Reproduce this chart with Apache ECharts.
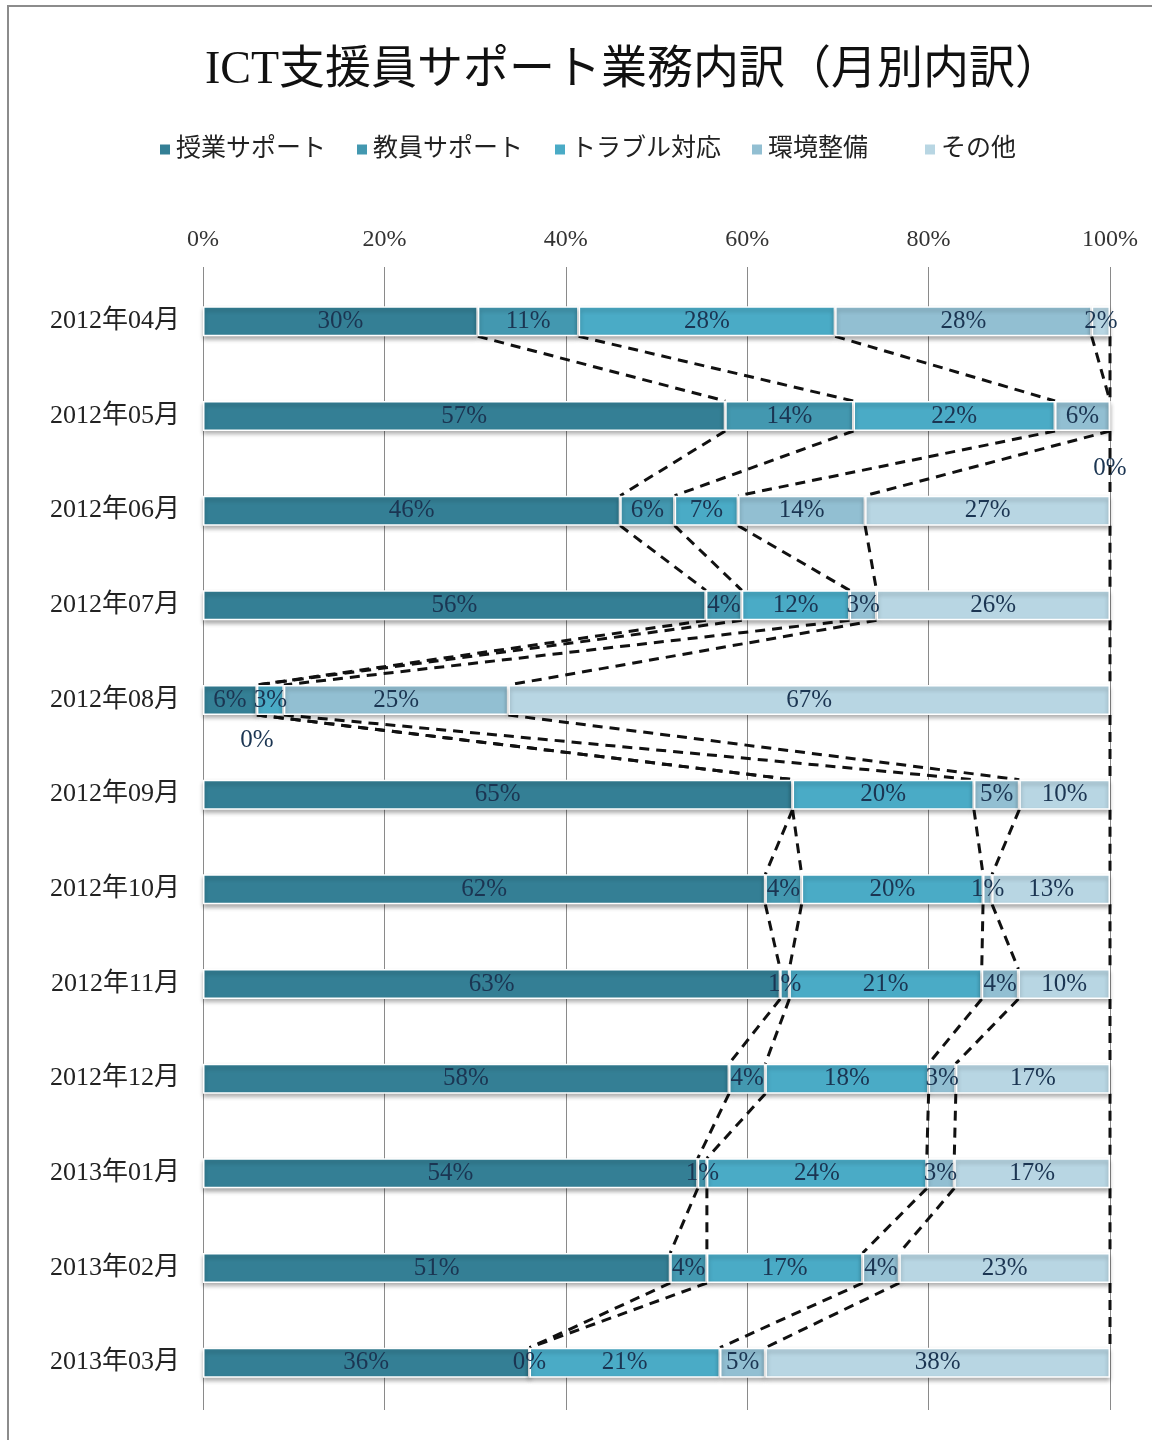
<!DOCTYPE html>
<html>
<head>
<meta charset="utf-8">
<title>ICT支援員サポート業務内訳（月別内訳）</title>
<script src="https://cdn.jsdelivr.net/npm/echarts@6/dist/echarts.min.js"></script>
<style>
  html, body { margin: 0; padding: 0; background: #ffffff; }
  #chart { width: 1152px; height: 1440px; }
</style>
</head>
<body>
<div id="chart"></div>
<script>
// Months on the category axis (top to bottom)
const categories = ['2012年04月', '2012年05月', '2012年06月', '2012年07月', '2012年08月', '2012年09月',
                    '2012年10月', '2012年11月', '2012年12月', '2013年01月', '2013年02月', '2013年03月'];

// Share of each kind of work per month, in percent
const lessonSupport   = [30, 57, 46, 56,  6, 65, 62, 63, 58, 54, 51, 36];
const teacherSupport  = [11, 14,  6,  4,  0,  0,  4,  1,  4,  1,  4,  0];
const troubleResponse = [28, 22,  7, 12,  3, 20, 20, 21, 18, 24, 17, 21];
const environment     = [28,  6, 14,  3, 25,  5,  1,  4,  3,  3,  4,  5];
const other           = [ 2,  0, 27, 26, 67, 10, 13, 10, 17, 17, 23, 38];

const seriesNames = ['授業サポート', '教員サポート', 'トラブル対応', '環境整備', 'その他'];
const tickValues = [0, 20, 40, 60, 80, 100];

const raw = [lessonSupport, teacherSupport, troubleResponse, environment, other];
const colors = ['#347f95', '#4398b0', '#4aabc6', '#92bfd2', '#b8d6e3'];

// 100% stacking: each month is scaled so its segments fill the full bar
const totals = categories.map((_, i) => raw.reduce((s, arr) => s + arr[i], 0));
const shares = raw.map(arr => arr.map((v, i) => v / totals[i] * 100));

// cumulative end of each segment, used by the dashed series lines
const cumulative = shares.map((_, k) =>
  categories.map((_, i) => shares.slice(0, k + 1).reduce((s, arr) => s + arr[i], 0)));

const FONT = "'Liberation Serif', 'Noto Sans CJK JP', serif";
const BAR_W = 30;

// label placement overrides for zero-width segments
const labelOverrides = {
  '4-1': { position: 'bottom', distance: 24 },
  '1-4': { position: 'bottom', distance: 12 },
  '1-5': { show: false }
};

const barSeries = seriesNames.map((name, s) => ({
  name: name,
  type: 'bar',
  stack: 'total',
  barWidth: BAR_W,
  z: 3,
  itemStyle: {
    color: colors[s],
    borderColor: '#ffffff',
    borderWidth: 1.5,
    shadowColor: 'rgba(0,0,0,0.3)',
    shadowBlur: 4,
    shadowOffsetY: 3
  },
  label: {
    show: true,
    position: 'inside',
    color: '#1b3552',
    fontFamily: FONT,
    fontSize: 25,
    formatter: p => raw[p.seriesIndex][p.dataIndex] + '%'
  },
  data: shares[s].map((v, i) => {
    const o = labelOverrides[s + '-' + i];
    return o ? { value: v, label: o } : v;
  })
}));

// dashed series lines joining segment ends of neighbouring bars
const seriesLines = {
  type: 'custom',
  name: 'series-lines',
  z: 2,
  silent: true,
  encode: { x: 0, y: 1 },
  data: categories.slice(0, -1).map((_, i) => [100, i]),
  renderItem: function (params, api) {
    const i = params.dataIndex;
    const half = BAR_W / 2;
    const children = [];
    for (let k = 0; k < cumulative.length; k++) {
      const a = api.coord([cumulative[k][i], i]);
      const b = api.coord([cumulative[k][i + 1], i + 1]);
      children.push({
        type: 'line',
        shape: { x1: a[0], y1: a[1] + half, x2: b[0], y2: b[1] - half },
        style: { stroke: '#111111', lineWidth: 3, lineDash: [10, 7], fill: null }
      });
    }
    return { type: 'group', children: children };
  }
};

// one legend block per series, spaced like the original layout
const legendLeft = [158, 355, 553, 750, 923];
const legends = seriesNames.map((name, i) => ({
  data: [name],
  left: legendLeft[i],
  top: 137,
  padding: 0,
  icon: 'rect',
  itemWidth: 12,
  itemHeight: 12,
  textStyle: { fontFamily: FONT, fontSize: 25, color: '#222222' }
}));

const chart = echarts.init(document.getElementById('chart'), null, { renderer: 'canvas' });
chart.setOption({
  backgroundColor: '#ffffff',
  animation: false,
  color: colors,
  graphic: [{
    type: 'rect',
    shape: { x: 8, y: 6, width: 1170, height: 1460 },
    style: { fill: null, stroke: '#8c8c8c', lineWidth: 2 },
    silent: true
  }],
  title: {
    text: 'ICT支援員サポート業務内訳（月別内訳）',
    left: 200,
    top: 43,
    textStyle: { fontFamily: FONT, fontSize: 46, fontWeight: 'normal', color: '#111111' }
  },
  legend: legends,
  grid: { left: 203, right: 42, top: 274, bottom: 30, containLabel: false },
  xAxis: {
    type: 'value',
    position: 'top',
    min: tickValues[0],
    max: tickValues[tickValues.length - 1],
    interval: tickValues[1] - tickValues[0],
    axisLine: { show: false },
    axisTick: { show: true, length: 7, lineStyle: { color: '#8a8a8a', width: 1 } },
    splitLine: { show: true, lineStyle: { color: '#8a8a8a', width: 1 } },
    axisLabel: {
      margin: 22,
      fontFamily: FONT,
      fontSize: 24,
      color: '#333333',
      formatter: '{value}%'
    }
  },
  yAxis: {
    type: 'category',
    inverse: true,
    data: categories,
    axisLine: { show: false },
    axisTick: { show: false },
    axisLabel: { margin: 23, fontFamily: FONT, fontSize: 26, color: '#222222' }
  },
  series: barSeries.concat([seriesLines])
});
</script>
</body>
</html>
